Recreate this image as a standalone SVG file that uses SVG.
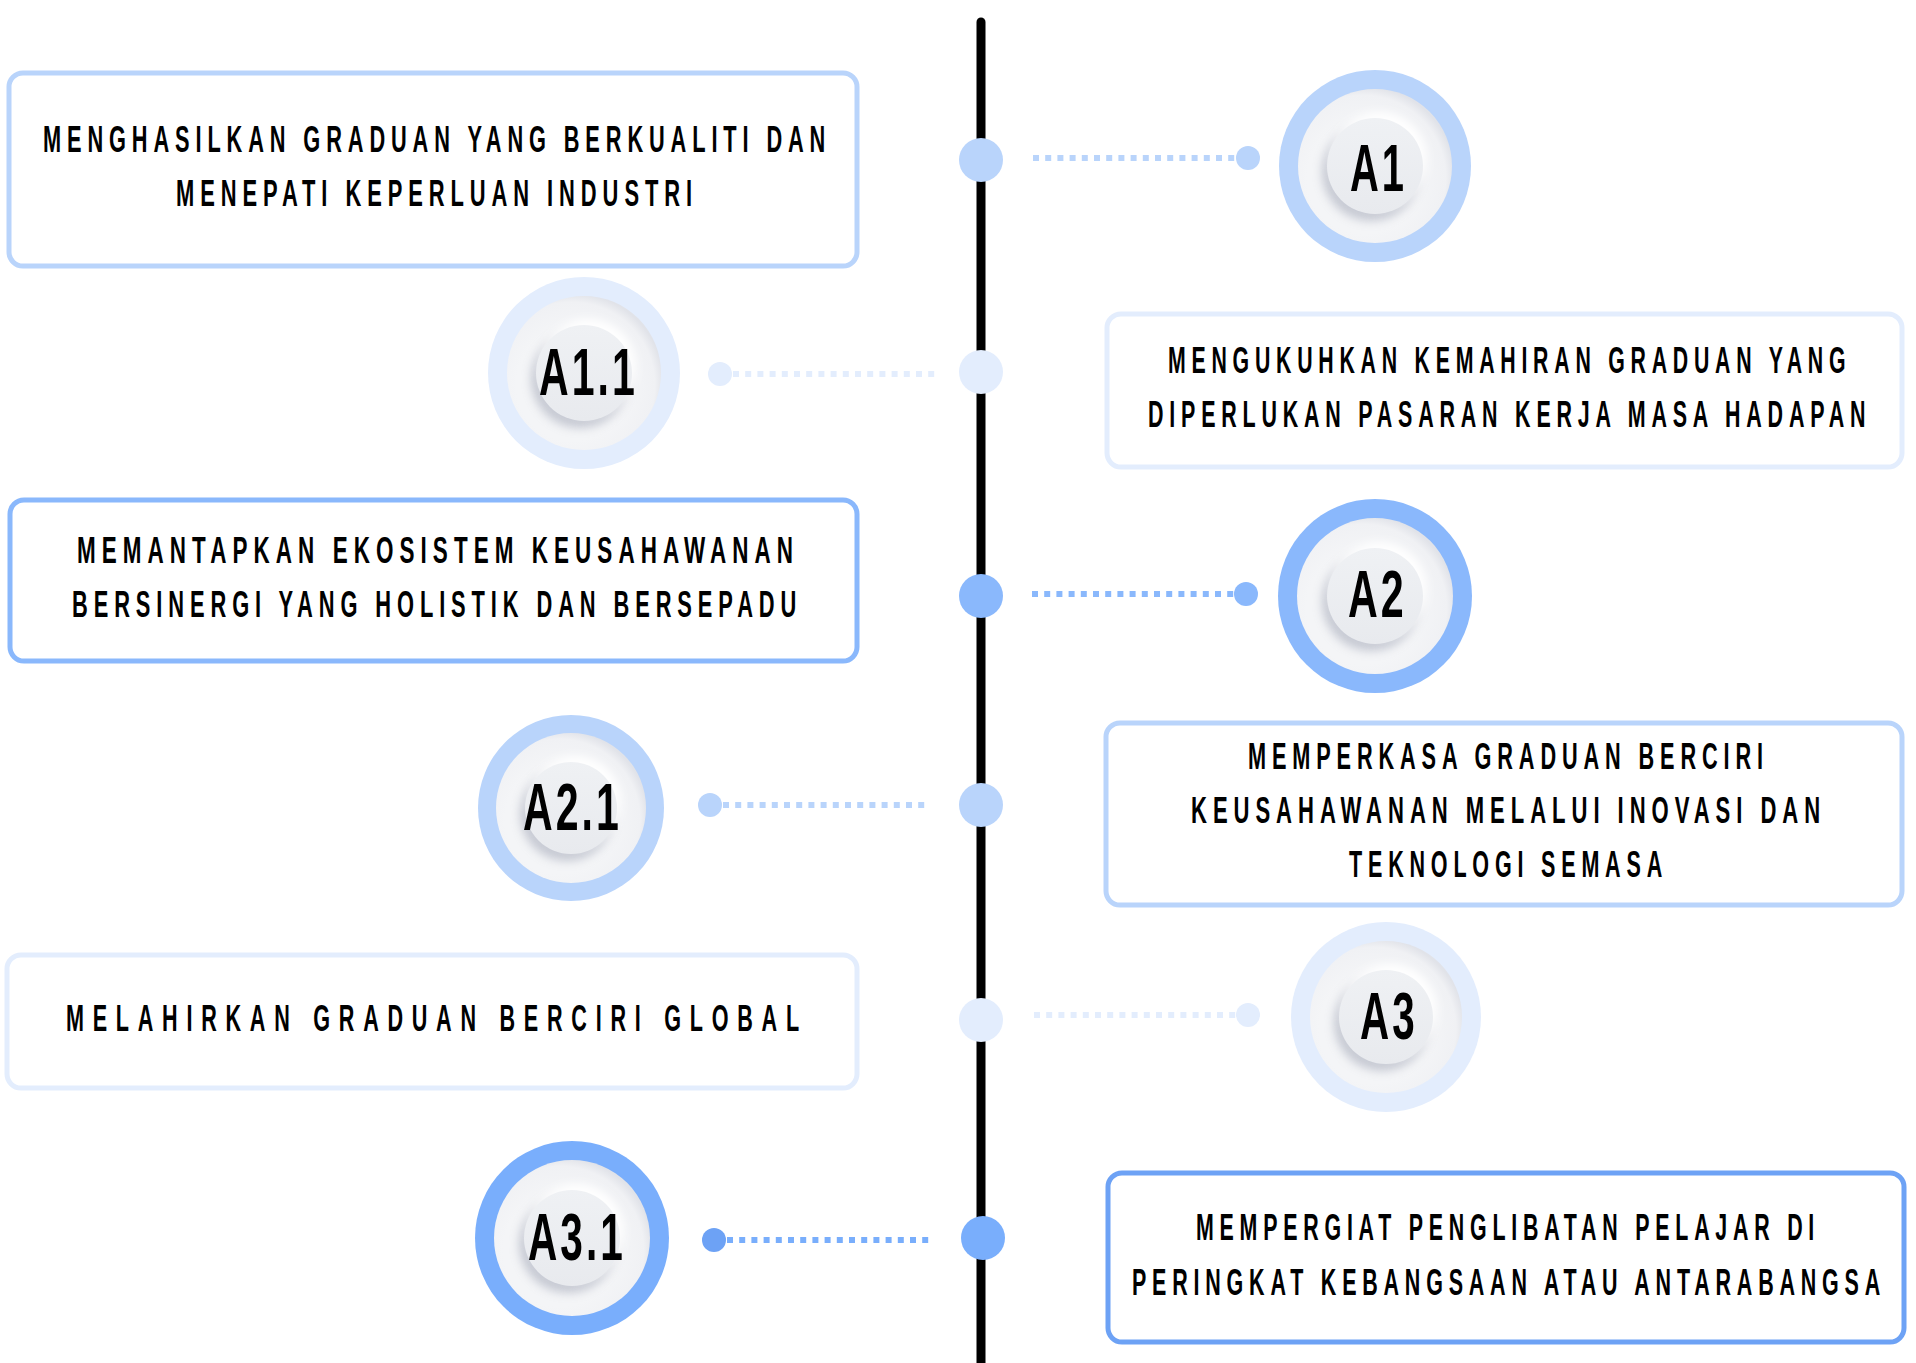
<svg xmlns="http://www.w3.org/2000/svg" width="1916" height="1363" viewBox="0 0 1916 1363">
<style>
.bx{fill:#fff;stroke-width:5}
.t{font-family:"Liberation Sans",Arial,sans-serif;font-weight:bold;font-size:37px;letter-spacing:10px;fill:#000}
.lb{font-family:"Liberation Sans",Arial,sans-serif;font-weight:bold;font-size:67px;letter-spacing:5px;fill:#000}
.dash{stroke-width:6;stroke-dasharray:6 6.2;fill:none}
.c0{fill:#e3edfd}.s0{stroke:#e3edfd}
.c1{fill:#b9d4fb}.s1{stroke:#b9d4fb}
.c2{fill:#8ab8fc}.s2{stroke:#8ab8fc}
.c3{fill:#79aefc}.s3{stroke:#79aefc}
.disc{fill:url(#discG)}
.inner{fill:url(#innerG)}
.ish{fill:#b7bbc7;opacity:.75;filter:url(#bl5)}
.ihl{fill:#ffffff;filter:url(#bl4)}
</style>
<defs>
<radialGradient id="discG" cx="0.42" cy="0.58" r="0.6">
<stop offset="0.6" stop-color="#f4f5f7"/>
<stop offset="0.9" stop-color="#f0f1f4"/>
<stop offset="1" stop-color="#e1e3e9"/>
</radialGradient>
<linearGradient id="innerG" x1="0" y1="0" x2="0" y2="1">
<stop offset="0" stop-color="#eff1f4"/>
<stop offset="1" stop-color="#e8eaee"/>
</linearGradient>
<filter id="bl5" x="-30%" y="-30%" width="160%" height="160%"><feGaussianBlur stdDeviation="5"/></filter>
<filter id="bl4" x="-30%" y="-30%" width="160%" height="160%"><feGaussianBlur stdDeviation="4"/></filter>
</defs>
<rect width="1916" height="1363" fill="#fff"/>

<g id="connectors">
<line x1="981" y1="22" x2="981" y2="1370" stroke="#000" stroke-width="9" stroke-linecap="round"/>
<circle class="c1" cx="981" cy="160" r="22"/>
<line class="dash s1" x1="1033" y1="158" x2="1236" y2="158"/>
<circle class="c1" cx="1248" cy="158" r="12"/>
<circle class="c0" cx="981" cy="372" r="22"/>
<line class="dash s0" x1="733" y1="374" x2="936" y2="374"/>
<circle class="c0" cx="720" cy="374" r="12"/>
<circle class="c2" cx="981" cy="596" r="22"/>
<line class="dash s2" x1="1032" y1="594" x2="1234" y2="594"/>
<circle class="c2" cx="1246" cy="594" r="12"/>
<circle class="c1" cx="981" cy="805" r="22"/>
<line class="dash s1" x1="723" y1="805" x2="926" y2="805"/>
<circle class="c1" cx="710" cy="805" r="12"/>
<circle class="c0" cx="981" cy="1020" r="22"/>
<line class="dash s0" x1="1034" y1="1015" x2="1236" y2="1015"/>
<circle class="c0" cx="1248" cy="1015" r="12"/>
<circle class="c3" cx="983" cy="1238" r="22"/>
<line class="dash s3" x1="727" y1="1240" x2="930" y2="1240"/>
<circle fill="#6da2f5" cx="714" cy="1240" r="12"/>
</g>

<g id="box-a1">
<rect class="bx s1" x="9" y="73" width="848" height="193" rx="14"/>
<text class="t" transform="translate(43,152) scale(0.58,1)" textLength="1359" lengthAdjust="spacingAndGlyphs">MENGHASILKAN GRADUAN YANG BERKUALITI DAN</text>
<text class="t" transform="translate(176,206) scale(0.58,1)" textLength="900" lengthAdjust="spacingAndGlyphs">MENEPATI KEPERLUAN INDUSTRI</text>
</g>

<g id="node-a1">
<circle class="c1" cx="1375" cy="166" r="96"/>
<circle class="disc" cx="1375" cy="166" r="77"/>
<circle class="ish" cx="1371" cy="172" r="49"/>
<circle class="ihl" cx="1379" cy="160" r="48"/>
<circle class="inner" cx="1375" cy="166" r="48"/>
<text class="lb" transform="translate(1350,191) scale(0.6,1)" textLength="95" lengthAdjust="spacingAndGlyphs">A1</text>
</g>

<g id="node-a1-1">
<circle class="c0" cx="584" cy="373" r="96"/>
<circle class="disc" cx="584" cy="373" r="77"/>
<circle class="ish" cx="580" cy="379" r="49"/>
<circle class="ihl" cx="588" cy="367" r="48"/>
<circle class="inner" cx="584" cy="373" r="48"/>
<text class="lb" transform="translate(539,395) scale(0.6,1)" textLength="165" lengthAdjust="spacingAndGlyphs">A1.1</text>
</g>

<g id="box-a1-1">
<rect class="bx s0" x="1107" y="314" width="795" height="153" rx="14"/>
<text class="t" transform="translate(1168,373) scale(0.58,1)" textLength="1178" lengthAdjust="spacingAndGlyphs">MENGUKUHKAN KEMAHIRAN GRADUAN YANG</text>
<text class="t" transform="translate(1148,427) scale(0.58,1)" textLength="1247" lengthAdjust="spacingAndGlyphs">DIPERLUKAN PASARAN KERJA MASA HADAPAN</text>
</g>

<g id="box-a2">
<rect class="bx s2" x="10" y="500" width="847" height="161" rx="14"/>
<text class="t" transform="translate(77,563) scale(0.58,1)" textLength="1245" lengthAdjust="spacingAndGlyphs">MEMANTAPKAN EKOSISTEM KEUSAHAWANAN</text>
<text class="t" transform="translate(72,617) scale(0.58,1)" textLength="1259" lengthAdjust="spacingAndGlyphs">BERSINERGI YANG HOLISTIK DAN BERSEPADU</text>
</g>

<g id="node-a2">
<circle class="c2" cx="1375" cy="596" r="97"/>
<circle class="disc" cx="1375" cy="596" r="78"/>
<circle class="ish" cx="1371" cy="602" r="49"/>
<circle class="ihl" cx="1379" cy="590" r="48"/>
<circle class="inner" cx="1375" cy="596" r="48"/>
<text class="lb" transform="translate(1348,617) scale(0.6,1)" textLength="98" lengthAdjust="spacingAndGlyphs">A2</text>
</g>

<g id="node-a2-1">
<circle class="c1" cx="571" cy="808" r="93"/>
<circle class="disc" cx="571" cy="808" r="75"/>
<circle class="ish" cx="567" cy="814" r="47"/>
<circle class="ihl" cx="575" cy="802" r="46"/>
<circle class="inner" cx="571" cy="808" r="46"/>
<text class="lb" transform="translate(523,830) scale(0.6,1)" textLength="165" lengthAdjust="spacingAndGlyphs">A2.1</text>
</g>

<g id="box-a2-1">
<rect class="bx s1" x="1106" y="723" width="796" height="182" rx="14"/>
<text class="t" transform="translate(1248,769) scale(0.58,1)" textLength="898" lengthAdjust="spacingAndGlyphs">MEMPERKASA GRADUAN BERCIRI</text>
<text class="t" transform="translate(1191,823) scale(0.58,1)" textLength="1095" lengthAdjust="spacingAndGlyphs">KEUSAHAWANAN MELALUI INOVASI DAN</text>
<text class="t" transform="translate(1349,877) scale(0.58,1)" textLength="550" lengthAdjust="spacingAndGlyphs">TEKNOLOGI SEMASA</text>
</g>

<g id="box-a3">
<rect class="bx s0" x="7" y="955" width="850" height="133" rx="14"/>
<text class="t" transform="translate(66,1031) scale(0.58,1)" textLength="1279" lengthAdjust="spacingAndGlyphs" style="letter-spacing:15px">MELAHIRKAN GRADUAN BERCIRI GLOBAL</text>
</g>

<g id="node-a3">
<circle class="c0" cx="1386" cy="1017" r="95"/>
<circle class="disc" cx="1386" cy="1017" r="76"/>
<circle class="ish" cx="1382" cy="1023" r="48"/>
<circle class="ihl" cx="1390" cy="1011" r="47"/>
<circle class="inner" cx="1386" cy="1017" r="47"/>
<text class="lb" transform="translate(1360,1039) scale(0.6,1)" textLength="96" lengthAdjust="spacingAndGlyphs">A3</text>
</g>

<g id="node-a3-1">
<circle class="c3" cx="572" cy="1238" r="97"/>
<circle class="disc" cx="572" cy="1238" r="78"/>
<circle class="ish" cx="568" cy="1244" r="49"/>
<circle class="ihl" cx="576" cy="1232" r="48"/>
<circle class="inner" cx="572" cy="1238" r="48"/>
<text class="lb" transform="translate(528,1260) scale(0.6,1)" textLength="163" lengthAdjust="spacingAndGlyphs">A3.1</text>
</g>

<g id="box-a3-1">
<rect class="bx" x="1108" y="1173" width="796" height="169" rx="14" stroke="#6da2f5"/>
<text class="t" transform="translate(1196,1240) scale(0.58,1)" textLength="1076" lengthAdjust="spacingAndGlyphs">MEMPERGIAT PENGLIBATAN PELAJAR DI</text>
<text class="t" transform="translate(1132,1295) scale(0.58,1)" textLength="1300" lengthAdjust="spacingAndGlyphs">PERINGKAT KEBANGSAAN ATAU ANTARABANGSA</text>
</g>
</svg>
